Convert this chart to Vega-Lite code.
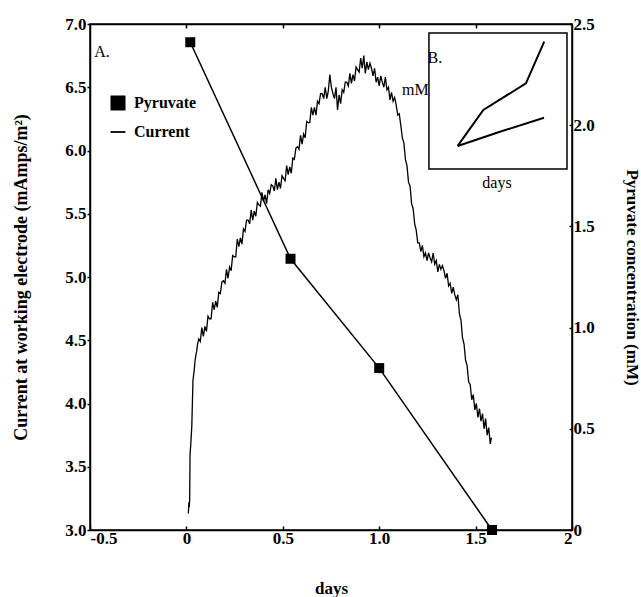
{
  "$schema": "https://vega.github.io/schema/vega-lite/v6.json",
  "width": 482,
  "height": 506,
  "autosize": {"type": "none"},
  "padding": {"left": 90, "top": 24, "right": 69, "bottom": 67},
  "background": "white",
  "datasets": {
    "current": [
      {"days":0.010,"current":3.13},{"days":0.013,"current":3.22},{"days":0.015,"current":3.18},{"days":0.017,"current":3.25},{"days":0.019,"current":3.60},{"days":0.022,"current":3.66},{"days":0.025,"current":3.74},{"days":0.028,"current":3.82},{"days":0.031,"current":4.00},{"days":0.034,"current":4.18},{"days":0.037,"current":4.22},{"days":0.041,"current":4.27},{"days":0.045,"current":4.34},{"days":0.049,"current":4.38},{"days":0.053,"current":4.41},{"days":0.057,"current":4.46},
      {"days":0.064,"current":4.51},{"days":0.072,"current":4.49},{"days":0.080,"current":4.60},{"days":0.088,"current":4.53},{"days":0.096,"current":4.61},{"days":0.104,"current":4.57},{"days":0.112,"current":4.69},{"days":0.120,"current":4.67},{"days":0.128,"current":4.67},{"days":0.136,"current":4.80},{"days":0.144,"current":4.74},{"days":0.152,"current":4.81},{"days":0.160,"current":4.76},{"days":0.168,"current":4.88},{"days":0.176,"current":4.87},{"days":0.184,"current":4.96},{"days":0.192,"current":4.97},{"days":0.200,"current":4.95},{"days":0.208,"current":5.06},{"days":0.216,"current":4.99},{"days":0.224,"current":5.08},{"days":0.232,"current":5.05},{"days":0.240,"current":5.17},{"days":0.248,"current":5.16},{"days":0.256,"current":5.16},{"days":0.264,"current":5.30},{"days":0.272,"current":5.24},{"days":0.280,"current":5.31},{"days":0.288,"current":5.26},{"days":0.296,"current":5.38},{"days":0.304,"current":5.36},{"days":0.312,"current":5.45},{"days":0.320,"current":5.45},{"days":0.328,"current":5.42},{"days":0.336,"current":5.53},{"days":0.344,"current":5.45},{"days":0.352,"current":5.52},{"days":0.360,"current":5.48},{"days":0.368,"current":5.59},{"days":0.376,"current":5.57},{"days":0.384,"current":5.56},{"days":0.392,"current":5.67},{"days":0.400,"current":5.60},{"days":0.408,"current":5.65},{"days":0.416,"current":5.58},{"days":0.424,"current":5.69},{"days":0.432,"current":5.66},{"days":0.440,"current":5.73},{"days":0.448,"current":5.72},{"days":0.456,"current":5.68},{"days":0.464,"current":5.78},{"days":0.472,"current":5.69},{"days":0.480,"current":5.75},{"days":0.488,"current":5.70},{"days":0.496,"current":5.80},{"days":0.504,"current":5.78},{"days":0.512,"current":5.76},{"days":0.520,"current":5.88},{"days":0.528,"current":5.81},{"days":0.536,"current":5.87},{"days":0.544,"current":5.82},{"days":0.552,"current":5.94},{"days":0.560,"current":5.93},{"days":0.568,"current":6.02},{"days":0.576,"current":6.03},{"days":0.584,"current":6.01},{"days":0.592,"current":6.12},{"days":0.600,"current":6.05},{"days":0.608,"current":6.13},{"days":0.616,"current":6.10},{"days":0.624,"current":6.23},{"days":0.632,"current":6.22},{"days":0.640,"current":6.22},{"days":0.648,"current":6.34},{"days":0.656,"current":6.28},{"days":0.664,"current":6.34},{"days":0.672,"current":6.28},{"days":0.680,"current":6.39},{"days":0.688,"current":6.37},{"days":0.696,"current":6.45},{"days":0.704,"current":6.45},{"days":0.712,"current":6.41},{"days":0.720,"current":6.50},{"days":0.728,"current":6.41},{"days":0.736,"current":6.47},{"days":0.744,"current":6.60},{"days":0.752,"current":6.50},{"days":0.760,"current":6.45},{"days":0.768,"current":6.41},{"days":0.776,"current":6.50},{"days":0.784,"current":6.32},{"days":0.792,"current":6.44},{"days":0.800,"current":6.37},{"days":0.808,"current":6.48},{"days":0.816,"current":6.46},{"days":0.824,"current":6.54},{"days":0.832,"current":6.54},{"days":0.840,"current":6.51},{"days":0.848,"current":6.61},{"days":0.856,"current":6.53},{"days":0.864,"current":6.60},{"days":0.872,"current":6.55},{"days":0.880,"current":6.66},{"days":0.888,"current":6.64},{"days":0.896,"current":6.62},{"days":0.904,"current":6.73},{"days":0.912,"current":6.65},{"days":0.920,"current":6.75},{"days":0.928,"current":6.61},{"days":0.936,"current":6.70},{"days":0.944,"current":6.64},{"days":0.952,"current":6.69},{"days":0.960,"current":6.65},{"days":0.968,"current":6.59},{"days":0.976,"current":6.65},{"days":0.984,"current":6.54},{"days":0.992,"current":6.58},{"days":1.000,"current":6.51},{"days":1.008,"current":6.59},{"days":1.016,"current":6.54},{"days":1.024,"current":6.50},{"days":1.032,"current":6.58},{"days":1.040,"current":6.48},{"days":1.048,"current":6.50},{"days":1.056,"current":6.40},{"days":1.064,"current":6.46},{"days":1.072,"current":6.39},{"days":1.080,"current":6.42},{"days":1.088,"current":6.36},{"days":1.096,"current":6.28},{"days":1.104,"current":6.29},
      {"days":1.112,"current":6.20},{"days":1.120,"current":6.10},{"days":1.128,"current":6.06},{"days":1.136,"current":5.93},{"days":1.144,"current":5.88},{"days":1.152,"current":5.75},{"days":1.160,"current":5.72},{"days":1.168,"current":5.58},{"days":1.176,"current":5.54},{"days":1.184,"current":5.42},{"days":1.192,"current":5.37},{"days":1.200,"current":5.27},
      {"days":1.208,"current":5.27},{"days":1.216,"current":5.20},{"days":1.224,"current":5.25},{"days":1.232,"current":5.16},{"days":1.240,"current":5.19},{"days":1.248,"current":5.13},{"days":1.256,"current":5.19},{"days":1.264,"current":5.15},{"days":1.272,"current":5.12},{"days":1.280,"current":5.19},{"days":1.288,"current":5.10},{"days":1.296,"current":5.13},{"days":1.304,"current":5.04},{"days":1.312,"current":5.10},{"days":1.320,"current":5.06},{"days":1.328,"current":5.09},{"days":1.336,"current":5.05},{"days":1.344,"current":4.99},{"days":1.352,"current":5.03},{"days":1.360,"current":4.93},{"days":1.368,"current":4.95},{"days":1.376,"current":4.87},{"days":1.384,"current":4.92},{"days":1.392,"current":4.86},{"days":1.400,"current":4.82},{"days":1.408,"current":4.86},{"days":1.416,"current":4.71},{"days":1.424,"current":4.66},{"days":1.432,"current":4.52},{"days":1.440,"current":4.47},{"days":1.448,"current":4.34},{"days":1.456,"current":4.30},{"days":1.464,"current":4.17},{"days":1.472,"current":4.15},{"days":1.480,"current":4.03},{"days":1.488,"current":4.07},{"days":1.496,"current":3.95},{"days":1.504,"current":4.00},{"days":1.512,"current":3.89},{"days":1.520,"current":3.96},{"days":1.528,"current":3.86},{"days":1.536,"current":3.92},{"days":1.544,"current":3.80},{"days":1.552,"current":3.88},{"days":1.560,"current":3.75},{"days":1.568,"current":3.81},{"days":1.576,"current":3.68},{"days":1.582,"current":3.73}
    ],
    "pyruvate": [
      {"days":0.02,"pyruvate":2.41,"series":"Pyruvate"},
      {"days":0.54,"pyruvate":1.34,"series":"Pyruvate"},
      {"days":1.00,"pyruvate":0.80,"series":"Pyruvate"},
      {"days":1.585,"pyruvate":0.0,"series":"Pyruvate"}
    ],
    "insetBox": [
      {"days":1.258,"days2":1.974,"current":6.929,"current2":5.854}
    ],
    "insetLines": [
      {"days":1.407,"current":6.036,"line":"upper"},
      {"days":1.540,"current":6.320,"line":"upper"},
      {"days":1.761,"current":6.531,"line":"upper"},
      {"days":1.856,"current":6.860,"line":"upper"},
      {"days":1.407,"current":6.036,"line":"lower"},
      {"days":1.630,"current":6.150,"line":"lower"},
      {"days":1.855,"current":6.259,"line":"lower"}
    ],
    "notes": [
      {"days":-0.438,"current":6.78,"label":"A.","align":"left"},
      {"days":1.289,"current":6.73,"label":"B.","align":"left"},
      {"days":1.611,"current":5.74,"label":"days","align":"center"}
    ],
    "unit": [
      {"days":1.118,"current":6.48,"label":"mM"}
    ]
  },
  "layer": [
    {
      "layer": [
        {
          "data": {"name": "current"},
          "mark": {"type": "line", "color": "black", "strokeWidth": 1.3},
          "encoding": {
            "x": {"field": "days", "type": "quantitative", "title": "days",
                  "scale": {"domain": [-0.5, 2], "nice": false, "zero": false},
                  "axis": {"values": [-0.5, 0, 0.5, 1, 1.5, 2],
                           "labelExpr": "datum.value == 0 ? '0' : datum.value == 2 ? '2' : datum.value < 0 ? '-0.5' : format(datum.value, '.1f')",
                           "tickSize": -4, "labelPadding": 4, "titlePadding": 34, "titleFontSize": 17}},
            "y": {"field": "current", "type": "quantitative", "title": "Current at working electrode (mAmps/m²)",
                  "scale": {"domain": [3, 7], "nice": false, "zero": false},
                  "axis": {"values": [3, 3.5, 4, 4.5, 5, 5.5, 6, 6.5, 7], "format": ".1f",
                           "tickSize": 3, "labelPadding": 1, "titlePadding": 34}}
          }
        },
        {
          "data": {"name": "unit"},
          "mark": {"type": "text", "font": "Liberation Serif", "fontSize": 16, "align": "left", "baseline": "middle", "color": "black"},
          "encoding": {
            "x": {"field": "days", "type": "quantitative", "title": "days"},
            "y": {"field": "current", "type": "quantitative", "title": "Current at working electrode (mAmps/m²)"},
            "text": {"field": "label"}
          }
        },
        {
          "data": {"name": "insetBox"},
          "mark": {"type": "rect", "fill": "white", "stroke": "black", "strokeWidth": 1.5},
          "encoding": {
            "x": {"field": "days", "type": "quantitative", "title": "days"},
            "x2": {"field": "days2"},
            "y": {"field": "current", "type": "quantitative", "title": "Current at working electrode (mAmps/m²)"},
            "y2": {"field": "current2"}
          }
        },
        {
          "data": {"name": "insetLines"},
          "mark": {"type": "line", "color": "black", "strokeWidth": 2},
          "encoding": {
            "x": {"field": "days", "type": "quantitative", "title": "days"},
            "y": {"field": "current", "type": "quantitative", "title": "Current at working electrode (mAmps/m²)"},
            "detail": {"field": "line"}
          }
        },
        {
          "data": {"name": "notes"},
          "mark": {"type": "text", "font": "Liberation Serif", "fontSize": 16, "baseline": "middle", "color": "black"},
          "encoding": {
            "x": {"field": "days", "type": "quantitative", "title": "days"},
            "y": {"field": "current", "type": "quantitative", "title": "Current at working electrode (mAmps/m²)"},
            "text": {"field": "label"},
            "align": {"field": "align", "type": "nominal", "scale": null, "legend": null}
          }
        }
      ]
    },
    {
      "data": {"name": "pyruvate"},
      "layer": [
        {
          "mark": {"type": "line", "color": "black", "strokeWidth": 1.5},
          "encoding": {
            "x": {"field": "days", "type": "quantitative", "title": null,
                  "axis": {"orient": "top", "values": [0, 0.5, 1, 1.5], "labels": false, "tickSize": -4, "title": null}},
            "y": {"field": "pyruvate", "type": "quantitative", "title": "Pyruvate concentration (mM)",
                  "scale": {"domain": [0, 2.5], "nice": false},
                  "axis": {"orient": "right", "values": [0, 0.5, 1, 1.5, 2, 2.5],
                           "labelExpr": "datum.value == 0 ? '0' : format(datum.value, '.1f')",
                           "tickSize": -3, "labelPadding": 4, "titleAngle": 90, "titlePadding": 28, "titleFontSize": 17}}
          }
        },
        {
          "mark": {"type": "point", "filled": true, "color": "black", "size": 100, "opacity": 1},
          "encoding": {
            "x": {"field": "days", "type": "quantitative", "title": null},
            "y": {"field": "pyruvate", "type": "quantitative", "title": "Pyruvate concentration (mM)"},
            "shape": {"field": "series", "type": "nominal",
                      "scale": {"domain": ["Pyruvate", "Current"], "range": ["square", "M-1,-0.12H1V0.12H-1Z"]},
                      "legend": {"title": null, "orient": "none", "legendX": 20, "legendY": 71,
                                 "padding": 0, "rowPadding": 13, "labelOffset": 8,
                                 "labelFont": "Liberation Serif", "labelFontWeight": "bold", "labelFontSize": 16, "labelColor": "black",
                                 "symbolSize": 225, "symbolFillColor": "black", "symbolStrokeWidth": 0,
                                 "encode": {"symbols": {"update": {"fill": {"value": "black"}, "size": {"value": 225}, "opacity": {"value": 1}}}}}}
          }
        }
      ]
    }
  ],
  "resolve": {"scale": {"y": "independent"}, "axis": {"x": "independent"}},
  "config": {
    "view": {"stroke": "black", "strokeWidth": 1.5},
    "axis": {
      "grid": false,
      "domainColor": "black", "domainWidth": 1.5,
      "tickColor": "black", "tickWidth": 1.5,
      "labelFont": "Liberation Serif", "labelFontWeight": "bold", "labelFontSize": 17, "labelColor": "black",
      "titleFont": "Liberation Serif", "titleFontWeight": "bold", "titleFontSize": 18, "titleColor": "black"
    }
  }
}
